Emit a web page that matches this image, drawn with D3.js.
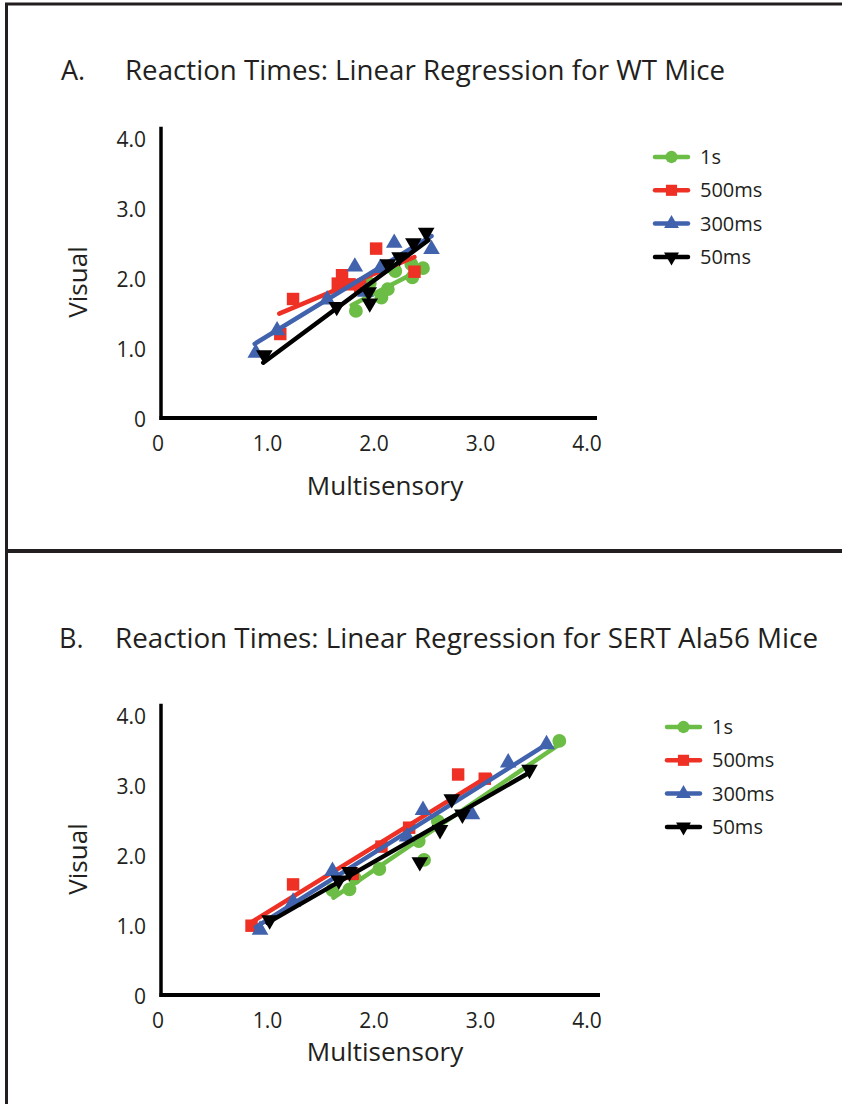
<!DOCTYPE html>
<meta charset="utf-8">
<style>
body {
  margin: 0;
  background: #fff;
  font-family: "Open Sans", sans-serif;
}
text { fill: #231f20; }
</style>
<body>
<script src="https://cdn.jsdelivr.net/npm/d3@7"></script>
<script>

var width = 842,
    height = 1104;

// series names and tick values
var seriesNames = ["1s", "500ms", "300ms", "50ms"];
var tickValues = [0, 1, 2, 3, 4];

// Panel A (WT mice): [multisensory, visual]
var wt1s    = [[1.83, 1.53], [1.96, 1.92], [2.07, 1.72], [2.13, 1.84], [2.20, 2.10], [2.35, 2.20], [2.36, 2.01], [2.46, 2.14]];
var wt500ms = [[1.24, 1.70], [1.12, 1.20], [1.70, 2.04], [1.66, 1.92], [1.77, 1.91], [1.87, 1.88], [2.02, 2.42], [2.38, 2.09]];
var wt300ms = [[0.89, 0.93], [1.09, 1.25], [1.56, 1.69], [1.82, 2.16], [1.92, 1.80], [2.06, 2.14], [2.19, 2.50], [2.54, 2.41]];
var wt50ms  = [[0.97, 0.90], [1.65, 1.59], [1.95, 1.80], [1.96, 1.64], [2.13, 2.20], [2.24, 2.30], [2.37, 2.50], [2.49, 2.65]];

// Panel A trendlines: [start, end]
var wtFit1s    = [[1.79, 1.61], [2.40, 2.09]];
var wtFit500ms = [[1.11, 1.49], [2.38, 2.30]];
var wtFit300ms = [[0.88, 1.06], [2.54, 2.60]];
var wtFit50ms  = [[0.96, 0.79], [2.51, 2.54]];

// Panel B (SERT Ala56 mice)
var sert1s    = [[1.61, 1.50], [1.77, 1.51], [1.82, 1.67], [2.05, 1.80], [2.42, 2.20], [2.47, 1.93], [2.60, 2.48], [3.74, 3.63]];
var sert500ms = [[0.85, 0.99], [1.24, 1.58], [1.80, 1.73], [2.07, 2.12], [2.33, 2.39], [2.79, 3.15], [3.04, 3.09]];
var sert300ms = [[0.93, 0.93], [1.24, 1.33], [1.61, 1.77], [2.31, 2.26], [2.46, 2.64], [2.92, 2.58], [3.26, 3.32], [3.62, 3.58]];
var sert50ms  = [[1.02, 1.07], [1.67, 1.64], [1.77, 1.76], [2.43, 1.90], [2.62, 2.36], [2.73, 2.80], [2.83, 2.58], [3.46, 3.22]];

var sertFit1s    = [[1.62, 1.39], [3.73, 3.57]];
var sertFit500ms = [[0.85, 1.04], [3.09, 3.14]];
var sertFit300ms = [[0.89, 0.97], [3.63, 3.59]];
var sertFit50ms  = [[1.00, 1.03], [3.44, 3.16]];

// styles
var colors = ["#6cbd45", "#ee3124", "#4162ad", "#000000"];
var symbols = [d3.symbolCircle, d3.symbolSquare, d3.symbolTriangle, d3.symbolTriangle];
var symSizes = [150, 155, 120, 120];
var symRotate = [0, 0, 0, 180];

var svg = d3.select("body").append("svg")
    .attr("width", width)
    .attr("height", height);

// frame
svg.append("line").attr("x1", 5).attr("x2", width).attr("y1", 4).attr("y2", 4)
  .style("stroke", "#231f20").style("stroke-width", 3);
svg.append("line").attr("x1", 6.5).attr("x2", 6.5).attr("y1", 3).attr("y2", height)
  .style("stroke", "#231f20").style("stroke-width", 3);
svg.append("line").attr("x1", 5).attr("x2", width).attr("y1", 551).attr("y2", 551)
  .style("stroke", "#231f20").style("stroke-width", 4);

function fmt(d) { return d === 0 ? "0" : d3.format(".1f")(d); }

function drawPanel(p) {

  var x = d3.scaleLinear().domain([0, 4]).range([161, 587]);
  var y = d3.scaleLinear().domain([0, 4]).range([p.y0, p.y0 - 280]);

  var g = svg.append("g");

  // title
  g.append("text")
    .attr("x", p.letterX).attr("y", p.titleY)
    .style("font-size", "27px")
    .text(p.letter);
  g.append("text")
    .attr("x", p.titleX).attr("y", p.titleY)
    .attr("textLength", p.titleW)
    .attr("lengthAdjust", "spacingAndGlyphs")
    .style("font-size", "27px")
    .text(p.title);

  // axes
  g.append("line")
    .attr("x1", x(0)).attr("x2", x(0))
    .attr("y1", y(0) + 2).attr("y2", y(4.16))
    .style("stroke", "#000").style("stroke-width", 3.5);
  g.append("line")
    .attr("x1", x(0) - 1.5).attr("x2", p.xEnd)
    .attr("y1", y(0)).attr("y2", y(0))
    .style("stroke", "#000").style("stroke-width", 4);

  g.selectAll(".xt")
    .data(tickValues)
    .enter().append("text")
    .attr("class", "xt")
    .attr("text-anchor", "middle")
    .attr("x", function(d) { return d === 0 ? x(0) - 3 : x(d); })
    .attr("y", y(0) + 33)
    .style("font-size", "21px")
    .text(fmt);

  g.selectAll(".yt")
    .data(tickValues)
    .enter().append("text")
    .attr("class", "yt")
    .attr("text-anchor", "end")
    .attr("x", x(0) - 15)
    .attr("y", function(d) { return y(d) + 9; })
    .style("font-size", "21px")
    .text(fmt);

  g.append("text")
    .attr("text-anchor", "middle")
    .attr("x", 385).attr("y", p.xLabelY)
    .style("font-size", "26px")
    .text("Multisensory");

  g.append("text")
    .attr("text-anchor", "middle")
    .attr("transform", "translate(" + 87 + "," + (y(2) + 4) + ")rotate(-90)")
    .style("font-size", "26px")
    .text("Visual");

  // series: trendline then markers
  p.series.forEach(function(s, i) {
    g.append("line")
      .attr("x1", x(s.fit[0][0])).attr("y1", y(s.fit[0][1]))
      .attr("x2", x(s.fit[1][0])).attr("y2", y(s.fit[1][1]))
      .style("stroke", colors[i]).style("stroke-width", 4.5)
      .style("stroke-linecap", "round");

    g.selectAll(".pt" + i)
      .data(s.points)
      .enter().append("path")
      .attr("class", "pt" + i)
      .attr("d", d3.symbol().type(symbols[i]).size(symSizes[i]))
      .attr("transform", function(d) {
        return "translate(" + x(d[0]) + "," + y(d[1]) + ")rotate(" + symRotate[i] + ")";
      })
      .style("fill", colors[i]);
  });

  // legend
  var leg = g.selectAll(".leg")
    .data(seriesNames)
    .enter().append("g")
    .attr("class", "leg")
    .attr("transform", function(d, i) { return "translate(" + p.legX + "," + (p.legY + i * 33.3) + ")"; });

  leg.append("line")
    .attr("x1", 0).attr("x2", 33)
    .style("stroke", function(d, i) { return colors[i]; })
    .style("stroke-width", 4.5)
    .style("stroke-linecap", "round");

  leg.append("path")
    .attr("d", function(d, i) { return d3.symbol().type(symbols[i]).size(symSizes[i] * 0.8)(); })
    .attr("transform", function(d, i) { return "translate(16.5,0)rotate(" + symRotate[i] + ")"; })
    .style("fill", function(d, i) { return colors[i]; });

  leg.append("text")
    .attr("x", 45).attr("y", 7)
    .style("font-size", "20px")
    .text(function(d) { return d; });
}

drawPanel({
  letter: "A.", letterX: 61, titleX: 125, titleW: 600, titleY: 80,
  y0: 418, xEnd: 597, xLabelY: 495,
  legX: 655, legY: 157,
  title: "Reaction Times: Linear Regression for WT Mice",
  series: [
    {points: wt1s, fit: wtFit1s},
    {points: wt500ms, fit: wtFit500ms},
    {points: wt300ms, fit: wtFit300ms},
    {points: wt50ms, fit: wtFit50ms}
  ]
});

drawPanel({
  letter: "B.", letterX: 59, titleX: 115, titleW: 703, titleY: 648,
  y0: 995, xEnd: 600, xLabelY: 1061,
  legX: 667, legY: 727,
  title: "Reaction Times: Linear Regression for SERT Ala56 Mice",
  series: [
    {points: sert1s, fit: sertFit1s},
    {points: sert500ms, fit: sertFit500ms},
    {points: sert300ms, fit: sertFit300ms},
    {points: sert50ms, fit: sertFit50ms}
  ]
});

</script>
